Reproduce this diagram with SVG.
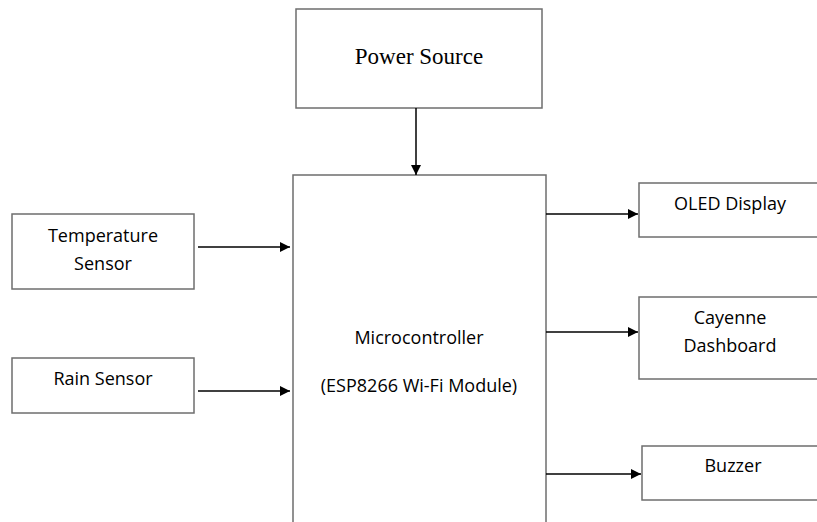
<svg xmlns="http://www.w3.org/2000/svg" width="817" height="522" viewBox="0 0 817 522">
<style>
.box{fill:#fff;stroke:#6e6e6e;stroke-width:1.5}
.t{font-family:"Open Sans","Liberation Sans",sans-serif;font-size:18px;fill:#000;text-anchor:middle}
.s{font-family:"Liberation Serif",serif;font-size:23px;fill:#000;text-anchor:middle}
.c{stroke:#000;stroke-width:1.5;fill:none;marker-end:url(#ah)}
</style>
<defs>
<marker id="ah" viewBox="0 0 10 10" refX="10" refY="5" markerWidth="10" markerHeight="10" markerUnits="userSpaceOnUse" orient="auto">
<path d="M0,0 L10,5 L0,10 z" fill="#000"/>
</marker>
</defs>
<rect width="817" height="522" fill="#fff"/>
<g id="power"><rect class="box" x="296" y="9" width="246" height="99"/><text class="s" x="419" y="64">Power Source</text></g>
<g id="mcu"><rect class="box" x="293" y="175" width="253" height="360"/><text class="t" x="419" y="344">Microcontroller</text><text class="t" x="419" y="392">(ESP8266 Wi-Fi Module)</text></g>
<g id="temp"><rect class="box" x="12" y="214" width="182" height="75"/><text class="t" x="103" y="242">Temperature</text><text class="t" x="103" y="270">Sensor</text></g>
<g id="rain"><rect class="box" x="12" y="358" width="182" height="55"/><text class="t" x="103" y="385">Rain Sensor</text></g>
<g id="oled"><rect class="box" x="639" y="183" width="180" height="54"/><text class="t" x="730" y="210">OLED Display</text></g>
<g id="cayenne"><rect class="box" x="639" y="297" width="180" height="82"/><text class="t" x="730" y="324">Cayenne</text><text class="t" x="730" y="352">Dashboard</text></g>
<g id="buzzer"><rect class="box" x="642" y="446" width="177" height="54"/><text class="t" x="733" y="472">Buzzer</text></g>
<g id="connectors">
<path class="c" d="M416,108 V175"/>
<path class="c" d="M198,247 H290"/>
<path class="c" d="M198,391 H290"/>
<path class="c" d="M546,214 H638"/>
<path class="c" d="M546,332 H638"/>
<path class="c" d="M546,474 H641"/>
</g>
</svg>
